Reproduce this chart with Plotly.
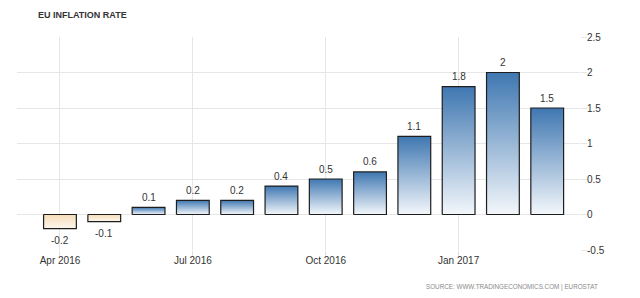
import plotly.graph_objects as go

months = ["Apr 2016", "May 2016", "Jun 2016", "Jul 2016", "Aug 2016", "Sep 2016",
          "Oct 2016", "Nov 2016", "Dec 2016", "Jan 2017", "Feb 2017", "Mar 2017"]
inflation = [-0.2, -0.1, 0.1, 0.2, 0.2, 0.4, 0.5, 0.6, 1.1, 1.8, 2.0, 1.5]
tick_labels = ["Apr 2016", "Jul 2016", "Oct 2016", "Jan 2017"]
y_ticks = [-0.5, 0, 0.5, 1, 1.5, 2, 2.5]

FONT = "Liberation Sans, Arial, sans-serif"
BAR_W = 0.74
POS_SCALE = [[0, "#f3f7fb"], [1, "#3f77b1"]]
NEG_SCALE = [[0, "#fdf7ee"], [1, "#f5dcb8"]]

fig = go.Figure()
idx = list(range(len(months)))
for i, v in zip(idx, inflation):
    x0, x1 = i - BAR_W / 2, i + BAR_W / 2
    fig.add_trace(go.Scatter(
        x=[x0, x1, x1, x0, x0], y=[0, 0, v, v, 0],
        mode="lines", fill="toself",
        fillgradient=dict(type="vertical", colorscale=POS_SCALE if v >= 0 else NEG_SCALE),
        line=dict(color="#1e1e1e", width=1.2),
        hoverinfo="skip", showlegend=False,
    ))

annotations = []
for i, v in zip(idx, inflation):
    annotations.append(dict(
        x=i, y=v, xref="x", yref="y", text=f"{v:g}", showarrow=False,
        yanchor="middle", yshift=10 if v >= 0 else -12,
        font=dict(family=FONT, size=10, color="#333333"),
    ))

annotations.append(dict(text="SOURCE: WWW.TRADINGECONOMICS.COM | EUROSTAT",
                        xref="paper", yref="paper", x=(600 - 17) / 563, y=-(287 - 250) / 213,
                        xanchor="right", yanchor="middle", showarrow=False,
                        font=dict(family=FONT, size=6.3, color="#8a8a8a")))

tickvals = [months.index(t) for t in tick_labels]

fig.update_layout(
    width=640, height=298,
    margin=dict(l=17, r=60, t=37, b=48),
    plot_bgcolor="white", paper_bgcolor="white",
    title=dict(text="<b>EU INFLATION RATE</b>", x=38 / 640, xanchor="left",
               y=1 - 15 / 298, yanchor="middle",
               font=dict(family=FONT, size=9, color="#333333")),
    xaxis=dict(range=[-0.97, 11.74], tickvals=tickvals, ticktext=tick_labels,
               showgrid=True, gridcolor="#e6e6e6", gridwidth=1,
               ticks="outside", ticklen=5, tickcolor="#e0e0e0",
               zeroline=False, showline=False, ticklabelstandoff=-4,
               tickfont=dict(family=FONT, size=10, color="#333333")),
    yaxis=dict(range=[-0.5, 2.5], tickvals=y_ticks, ticktext=[f"{t:g}" for t in y_ticks],
               side="right", showgrid=True, gridcolor="#e6e6e6", gridwidth=1,
               ticks="outside", ticklen=6, tickcolor="#e6e6e6",
               zeroline=False, showline=False, ticklabelstandoff=-2,
               tickfont=dict(family=FONT, size=10, color="#333333")),
    annotations=annotations,
)

fig.write_html("out.html")
